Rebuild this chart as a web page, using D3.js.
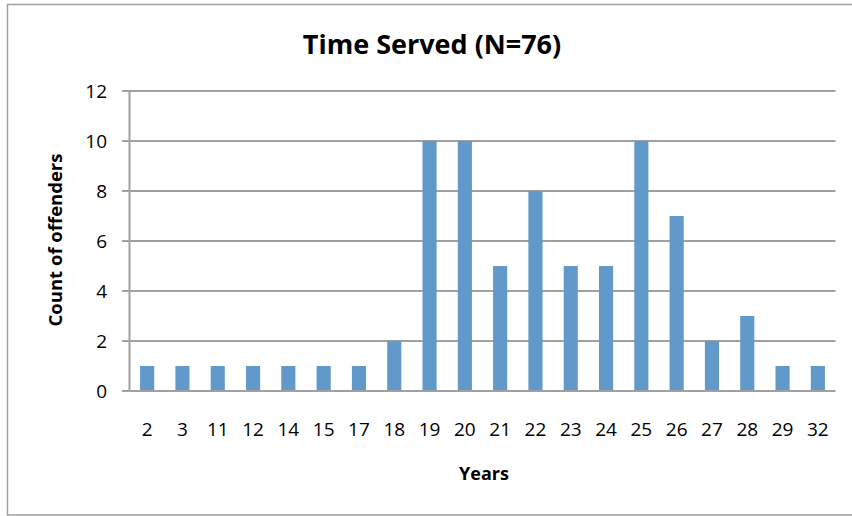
<!DOCTYPE html>
<html><head><meta charset="utf-8">
<script src="https://cdn.jsdelivr.net/npm/d3@7"></script>
<style>body{margin:0;background:#fff}svg{display:block}text{font-family:"Open Sans",sans-serif}</style>
</head><body><svg id="c" width="852" height="516"></svg>
<script>
const years = ["2","3","11","12","14","15","17","18","19","20","21","22","23","24","25","26","27","28","29","32"];
const counts = [1,1,1,1,1,1,1,2,10,10,5,8,5,5,10,7,2,3,1,1];
const yTicks = [0,2,4,6,8,10,12];
const titleText = "Time Served (N=76)";
const xTitle = "Years";
const yTitle = "Count of offenders";

const svg = d3.select("#c");
svg.append("rect").attr("x",7.5).attr("y",4.5).attr("width",860).attr("height",510.5)
  .attr("fill","#fff").attr("stroke","#9e9e9e").attr("stroke-width",1.5);

const pLeft=129.5, pRight=835.5, pTop=91, pBottom=391;
const x = d3.scaleBand().domain(years).range([pLeft,pRight]).paddingInner(0.6).paddingOuter(0.3);
const y = d3.scaleLinear().domain([0,12]).range([pBottom,pTop]);

svg.append("g").selectAll("line").data(yTicks).join("line")
  .attr("x1",122).attr("x2",pRight).attr("y1",d=>y(d)).attr("y2",d=>y(d))
  .attr("stroke","#a0a0a0").attr("stroke-width",2);
svg.append("line").attr("x1",pLeft).attr("x2",pLeft).attr("y1",pTop).attr("y2",pBottom)
  .attr("stroke","#a0a0a0").attr("stroke-width",2);

svg.append("g").selectAll("rect").data(counts).join("rect")
  .attr("x",(d,i)=>x(years[i])).attr("width",x.bandwidth())
  .attr("y",d=>y(d)).attr("height",d=>y(0)-y(d)-1)
  .attr("fill","#6199cb");

const yAxis = d3.axisLeft(y).tickValues(yTicks).tickSize(0).tickPadding(0);
const gy = svg.append("g").attr("transform",`translate(107,0)`).call(yAxis);
gy.select(".domain").remove();
gy.selectAll("text").attr("font-size",19).attr("fill","#000").attr("font-family","Open Sans").attr("dy","0.35em");

const xAxis = d3.axisBottom(x).tickSize(0).tickPadding(0);
const gx = svg.append("g").attr("transform",`translate(0,${pBottom+31})`).call(xAxis);
gx.select(".domain").remove();
gx.selectAll("text").attr("font-size",19).attr("fill","#000").attr("font-family","Open Sans").attr("dy","0.71em");

svg.append("text").attr("x",432).attr("y",54).attr("text-anchor","middle")
  .attr("font-size",27).attr("font-weight","bold").text(titleText);
svg.append("text").attr("x",484).attr("y",480).attr("text-anchor","middle")
  .attr("font-size",18).attr("font-weight","bold").text(xTitle);
svg.append("text").attr("transform","translate(62,240) rotate(-90)").attr("text-anchor","middle")
  .attr("font-size",18.5).attr("font-weight","bold").text(yTitle);
</script></body></html>
